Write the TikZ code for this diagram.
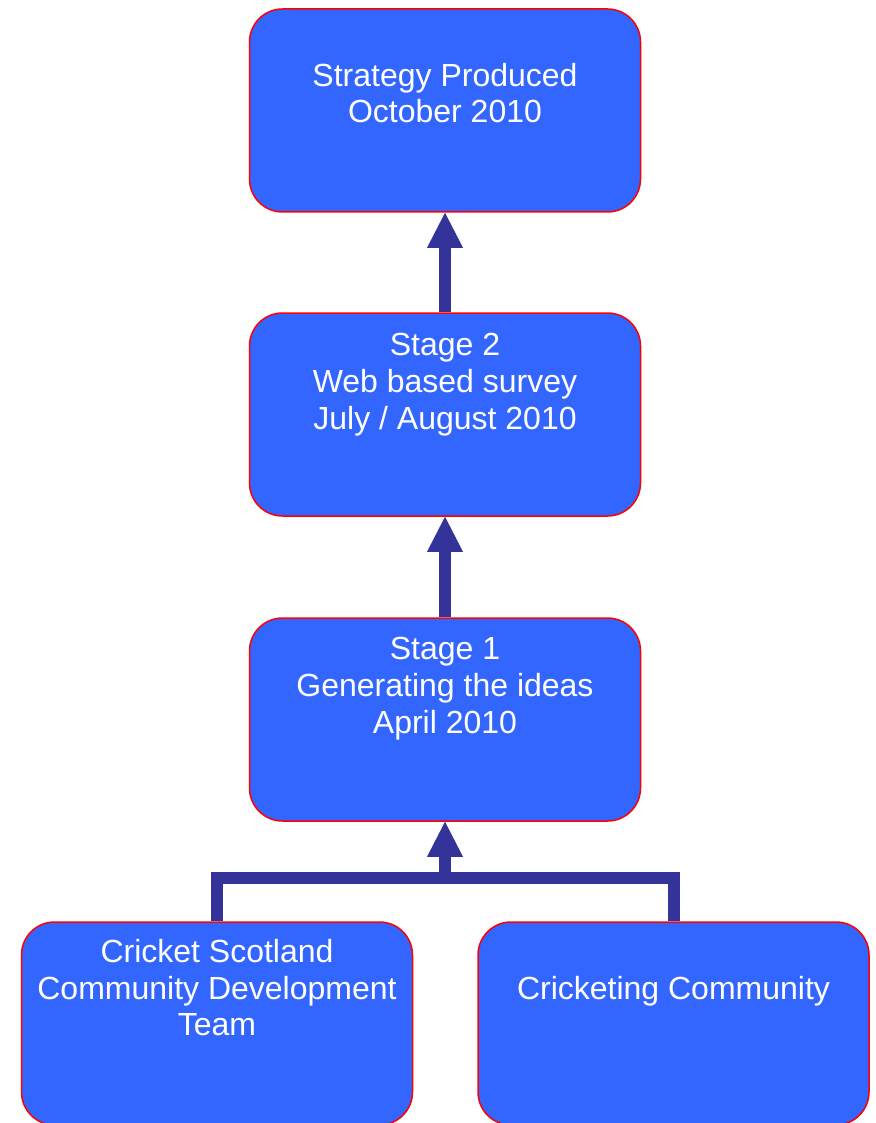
\documentclass[tikz,border=0pt]{standalone}
\usepackage{fontspec}
\setmainfont{Liberation Sans}
\usetikzlibrary{arrows.meta}
\definecolor{boxfill}{HTML}{3366FF}
\definecolor{boxline}{HTML}{FF0000}
\definecolor{linkcol}{HTML}{333399}
\tikzset{
  stagebox/.style={draw=boxline, line width=1.5pt, fill=boxfill, rounded corners=33pt,
    minimum width=391pt, minimum height=203pt, inner sep=0pt},
  boxtext/.style={text=white, align=center, anchor=north, inner sep=0pt,
    font=\fontsize{32}{36.8}\selectfont},
  link/.style={draw=linkcol, line width=12pt, line join=miter},
  uparrow/.style={link, -{Triangle[width=36pt,length=35pt,line width=0pt]}}
}
\newcommand{\firstline}{\rule{0pt}{26pt}}
\begin{document}
\begin{tikzpicture}[x=1pt,y=-1pt]
  \useasboundingbox (0,0) rectangle (875,1123);

  % boxes
  \node[stagebox] (strategy) at (445,110.5) {};
  \node[stagebox] (stagetwo) at (445,414.5) {};
  \node[stagebox] (stageone) at (445,719.5) {};
  \node[stagebox] (csteam) at (217,1023.5) {};
  \node[stagebox] (community) at (673.5,1023.5) {};

  % labels (anchored at the top of the first line)
  \node[boxtext] (strategytext) at (445,60) {\firstline Strategy Produced\\October 2010};
  \node[boxtext] (stagetwotext) at (445,329.5) {\firstline Stage 2\\Web based survey\\July / August 2010};
  \node[boxtext] (stageonetext) at (445,633.5) {\firstline Stage 1\\Generating the ideas\\April 2010};
  \node[boxtext] (csteamtext) at (217,936) {\firstline Cricket Scotland\\Community Development\\Team};
  \node[boxtext] (communitytext) at (673.5,973.5) {\firstline Cricketing Community};

  % connectors
  \draw[uparrow] (stagetwo.north) -- (strategy.south);
  \draw[uparrow] (stageone.north) -- (stagetwo.south);
  \coordinate (join) at (445,878);
  \draw[link] (csteam.north) -- (csteam.north |- join) -- (community.north |- join) -- (community.north);
  \draw[uparrow] (join) -- (stageone.south);
\end{tikzpicture}
\end{document}
